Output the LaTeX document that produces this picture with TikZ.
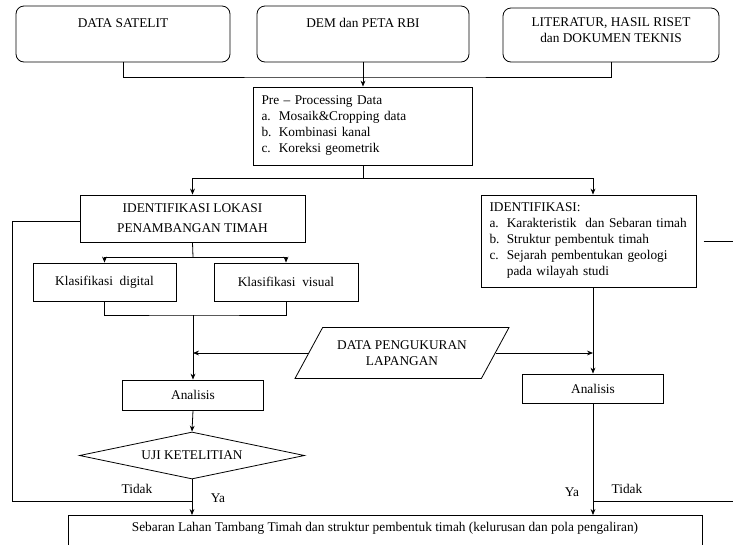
\documentclass[tikz,border=0pt]{standalone}
\usepackage{fontspec}
\setmainfont{Liberation Serif}
\usepackage{tikz}
\usetikzlibrary{arrows.meta}
\usetikzlibrary{shapes.geometric}

\newcommand{\lstitem}[2]{\makebox[13pt][l]{#1}#2}

\begin{document}
\begin{tikzpicture}[
        x = 0.75pt, y = -0.75pt,
        font = \fontsize{10}{12}\selectfont,
        line width = 0.6pt,
        >={Stealth[length=4.5pt,width=3.6pt]},
        srcbox/.style = {draw, rounded corners=6pt, inner sep=0pt},
        procbox/.style = {draw, inner sep=0pt, align=center},
        listbox/.style = {draw, inner xsep=6pt, align=left},
        iobox/.style = {draw, trapezium, trapezium left angle=45,
            trapezium right angle=135, trapezium stretches body,
            minimum width=160.5pt, minimum height=38.25pt,
            inner sep=1pt, align=center},
        decision/.style = {draw, diamond, aspect=4.8, inner sep=1pt,
            minimum width=168.75pt, minimum height=35.25pt},
		]
        \useasboundingbox (0,0) rectangle (733,544);

        % Input data
        \node[srcbox, minimum width=160.5pt, minimum height=42pt] (sat) at (123,34) {};
        \node (satT) at (123,23) {DATA SATELIT};
        \node[srcbox, minimum width=159pt, minimum height=42pt] (dem) at (363,34) {};
        \node (demT) at (363,23) {DEM dan PETA RBI};
        \node[srcbox, minimum width=162pt, minimum height=40.5pt] (lit) at (611,35) {};
        \node[align=center] (litT) at (611,30) {LITERATUR, HASIL RISET\\dan DOKUMEN TEKNIS};

        % Pre-processing
        \node[listbox, minimum height=58.5pt, text width=152.25pt] (pre) at (363,126)
        {Pre -- Processing Data\\
         \lstitem{a.}{Mosaik\&Cropping data}\\
         \lstitem{b.}{Kombinasi kanal}\\
         \lstitem{c.}{Koreksi geometrik}};

        \coordinate (busA) at (363,77);
        \draw (sat.south) |- (busA) -| (lit.south);
        \draw[->] (dem.south) -- (pre.north);

        % Identification
        \node[procbox, minimum width=168.75pt, minimum height=35.25pt] (idl) at (192.5,218.5)
        {IDENTIFIKASI LOKASI\\[3pt]PENAMBANGAN TIMAH};
        \node[listbox, minimum height=69pt, text width=149.25pt] (idr) at (589,241)
        {IDENTIFIKASI:\\
         \lstitem{a.}{Karakteristik\ \ dan Sebaran timah}\\
         \lstitem{b.}{Struktur pembentuk timah}\\
         \lstitem{c.}{Sejarah pembentukan geologi}\\
         \lstitem{}{pada wilayah studi}};

        \coordinate (busB) at (363,178);
        \draw (pre.south) -- (busB);
        \draw[->] (busB) -| (idl.north);
        \draw[->] (busB) -| ([xshift=3pt]idr.north);

        % Classification
        \node[procbox, minimum width=107.25pt, minimum height=28.5pt] (kd) at (104.5,282) {Klasifikasi\ \ digital};
        \node[procbox, minimum width=108pt, minimum height=28.5pt] (kv) at (286,282) {Klasifikasi\ \ visual};

        \coordinate (busC) at (193,257);
        \draw (idl.south) -- (busC);
        \draw[->] (busC) -| (kd.north);
        \draw[->] (busC) -| (kv.north);

        % Analysis
        \node[procbox, minimum width=105.75pt, minimum height=22.5pt] (ana1) at (193,395) {Analisis};
        \node[procbox, minimum width=105.75pt, minimum height=21.75pt] (ana2) at (593,388.5) {Analisis};
        \node[iobox] (dat) at (402,353) {DATA PENGUKURAN\\LAPANGAN};

        \coordinate (busD) at (193,315);
        \draw (kd.south) |- (busD) -| (kv.south);
        \draw[->] (busD) -- (ana1.north);
        \draw[->] ([xshift=3pt]idr.south) -- (ana2.north);
        \draw[->] (dat.west) -- (dat.west -| ana1.north);
        \draw[->] (dat.east) -- (dat.east -| ana2.north);

        % Accuracy test
        \node[decision] (uji) at (192,455.5) {UJI KETELITIAN};
        \draw[->] (ana1.south) -- (uji.north);

        % Result
        \node[draw, anchor=north, minimum width=475.5pt, inner ysep=5pt, text depth=20pt] (fin) at (385,515)
        {Sebaran Lahan Tambang Timah dan struktur pembentuk timah (kelurusan dan pola pengaliran)};
        \draw[->] (uji.south) -- (fin.north -| uji.south);
        \draw[->] (ana2.south) -- (fin.north -| ana2.south);

        % Feedback loops
        \coordinate (loopL) at (12,501);
        \coordinate (joinL) at (192,501);
        \draw ([yshift=-2.5pt]idl.west) -| (loopL) -- (joinL);
        \coordinate (loopR) at (738,501);
        \coordinate (joinR) at (593,501);
        \draw[shorten <=5pt] (idr.east) -| (loopR) -- (joinR);

        \node (noL) at (137,489) {Tidak};
        \node (yesL) at (218,498) {Ya};
        \node (yesR) at (572,492) {Ya};
        \node (noR) at (627,489) {Tidak};
    \end{tikzpicture}
\end{document}
